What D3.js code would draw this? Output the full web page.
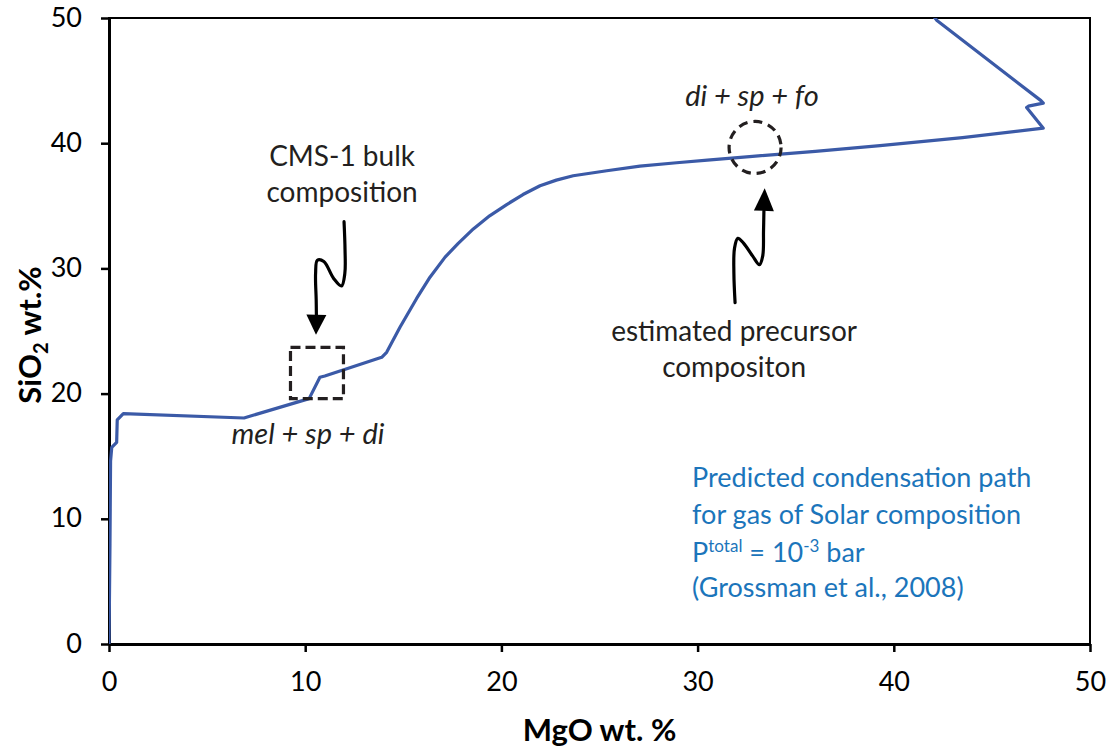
<!DOCTYPE html>
<html>
<head>
<meta charset="utf-8">
<script src="https://cdn.jsdelivr.net/npm/d3@7"></script>
<style>
  html, body { margin: 0; padding: 0; background: #fff; }
  svg { display: block; font-family: Lato, "Open Sans", sans-serif; }
</style>
</head>
<body>
<svg id="chart" width="1110" height="748"></svg>
<script>
// condensation path (MgO wt.% vs SiO2 wt.%)
const mgo = [0.0, 0.05, 0.08, 0.14, 0.39, 0.42, 0.73, 6.88, 10.2, 10.75, 11.0, 13.9, 14.15,
  14.83, 15.68, 16.36, 17.13, 17.8, 18.57, 19.4, 20.27, 21.1, 21.97, 22.8, 23.66, 25.37,
  27.06, 28.93, 30.5, 32.8, 36.0, 39.3, 43.5, 47.62, 46.77, 46.86, 47.62, 47.5, 42.2, 41.9];
const sio2 = [0.0, 8.0, 14.6, 15.7, 16.1, 17.9, 18.4, 18.05, 19.6, 21.3, 21.4, 22.9, 23.3,
  25.3, 27.6, 29.3, 30.9, 32.0, 33.15, 34.2, 35.1, 35.9, 36.6, 37.05, 37.4, 37.8,
  38.17, 38.44, 38.65, 38.95, 39.35, 39.8, 40.45, 41.2, 42.85, 42.96, 43.2, 43.4, 49.8, 50.4];

const xTicks = [0, 10, 20, 30, 40, 50];
const yTicks = [0, 10, 20, 30, 40, 50];

const path = mgo.map((m, i) => ({ mgo: m, sio2: sio2[i] }));

const svg = d3.select("#chart");
const x = d3.scaleLinear().domain([0, 50]).range([109, 1090]);
const y = d3.scaleLinear().domain([0, 50]).range([644, 18]);

const ink = "#231f20";
const lineBlue = "#3b5aa7";
const textBlue = "#1b75bb";

// plot frame
svg.append("rect")
  .attr("x", x(0)).attr("y", y(50))
  .attr("width", x(50) - x(0)).attr("height", y(0) - y(50))
  .attr("fill", "none").attr("stroke", "#000").attr("stroke-width", 2);

svg.append("clipPath").attr("id", "plot")
  .append("rect")
  .attr("x", x(0)).attr("y", y(50))
  .attr("width", x(50) - x(0)).attr("height", y(0) - y(50));

// axes
const xAxis = svg.append("g")
  .attr("transform", `translate(0,${y(0)})`)
  .call(d3.axisBottom(x).tickValues(xTicks).tickSize(8).tickSizeOuter(0).tickPadding(20));
const yAxis = svg.append("g")
  .attr("transform", `translate(${x(0)},0)`)
  .call(d3.axisLeft(y).tickValues(yTicks).tickSize(8).tickSizeOuter(0).tickPadding(19));

[xAxis, yAxis].forEach(g => {
  g.select(".domain").attr("stroke", "#000").attr("stroke-width", 3);
  g.selectAll(".tick line").attr("stroke", "#000").attr("stroke-width", 2.5);
  g.selectAll(".tick text")
    .attr("font-family", "Lato, sans-serif")
    .attr("font-size", 27)
    .attr("fill", "#000");
});
yAxis.selectAll(".tick text").attr("dy", "0.3em");

// axis titles
svg.append("text")
  .attr("x", (x(0) + x(50)) / 2).attr("y", 741)
  .attr("text-anchor", "middle")
  .attr("font-size", 31).attr("font-weight", "bold")
  .text("MgO wt. %");

const yTitle = svg.append("text")
  .attr("transform", `translate(41,${(y(0) + y(50)) / 2 + 4}) rotate(-90)`)
  .attr("text-anchor", "middle")
  .attr("font-size", 31).attr("font-weight", "bold");
yTitle.append("tspan").text("SiO");
yTitle.append("tspan").attr("font-size", 20).attr("dy", 7).text("2");
yTitle.append("tspan").attr("dy", -7).text(" wt.%");

// condensation path
const line = d3.line()
  .x(d => x(d.mgo))
  .y(d => y(d.sio2));

svg.append("path")
  .attr("clip-path", "url(#plot)")
  .attr("d", line(path))
  .attr("fill", "none")
  .attr("stroke", lineBlue)
  .attr("stroke-width", 3.2)
  .attr("stroke-linejoin", "round");

// dashed markers
svg.append("rect")
  .attr("x", x(9.25)).attr("y", y(23.7))
  .attr("width", x(11.95) - x(9.25)).attr("height", y(19.6) - y(23.7))
  .attr("fill", "none").attr("stroke", ink)
  .attr("stroke-width", 3.2).attr("stroke-dasharray", "10,5");

svg.append("circle")
  .attr("cx", x(32.93)).attr("cy", y(39.66)).attr("r", 26)
  .attr("fill", "none").attr("stroke", ink)
  .attr("stroke-width", 3.2).attr("stroke-dasharray", "9,6");

// squiggly arrows
const squiggle = d3.line()
  .x(d => x(d[0])).y(d => y(d[1]))
  .curve(d3.curveCatmullRom.alpha(0.5));

function arrow(pts, tip) {
  svg.append("path")
    .attr("d", squiggle(pts))
    .attr("fill", "none").attr("stroke", "#000")
    .attr("stroke-width", 3.2).attr("stroke-linecap", "round");
  const b = pts[pts.length - 1];
  const bx = x(b[0]), by = y(b[1]), tx = x(tip[0]), ty = y(tip[1]);
  const dx = tx - bx, dy = ty - by, len = Math.hypot(dx, dy);
  const nx = -dy / len * 10, ny = dx / len * 10;
  svg.append("path")
    .attr("d", `M${bx + nx},${by + ny}L${tx},${ty}L${bx - nx},${by - ny}Z`)
    .attr("fill", "#000");
}

arrow([[11.98, 33.73], [12.03, 31.5], [12.02, 29.6], [11.85, 28.6], [11.45, 29.2],
  [10.95, 30.55], [10.62, 30.65], [10.53, 29.6], [10.56, 27.5], [10.57, 26.3]], [10.55, 24.7]);

arrow([[31.91, 27.27], [31.85, 29.6], [31.88, 31.6], [32.05, 32.4], [32.35, 32.0],
  [32.8, 31.0], [33.15, 30.3], [33.32, 31.0], [33.36, 33.0], [33.38, 34.6]], [33.42, 36.4]);

// annotations
function label(tx, ty, str, opts = {}) {
  return svg.append("text")
    .attr("x", x(tx)).attr("y", y(ty))
    .attr("text-anchor", opts.anchor || "middle")
    .attr("font-size", opts.size || 28)
    .attr("font-style", opts.italic ? "italic" : "normal")
    .attr("fill", opts.fill || ink)
    .text(str);
}

label(11.88, 38.2, "CMS-1 bulk");
label(11.88, 35.33, "composition");
label(10.14, 15.95, "mel + sp + di", { italic: true, size: 29 });
label(32.77, 42.98, "di + sp + fo", { italic: true, size: 29 });
label(31.86, 24.24, "estimated precursor");
label(31.86, 21.29, "compositon");

const blue = { anchor: "start", size: 27, fill: textBlue };
label(29.72, 12.52, "Predicted condensation path", blue);
label(29.72, 9.57, "for gas of Solar composition", blue);
const p = label(29.72, 6.56, "", blue);
p.append("tspan").text("P");
p.append("tspan").attr("font-size", 17).attr("dy", -10).text("total");
p.append("tspan").attr("dy", 10).text(" = 10");
p.append("tspan").attr("font-size", 17).attr("dy", -10).text("-3");
p.append("tspan").attr("dy", 10).text(" bar");
label(29.72, 3.77, "(Grossman et al., 2008)", blue);
</script>
</body>
</html>
